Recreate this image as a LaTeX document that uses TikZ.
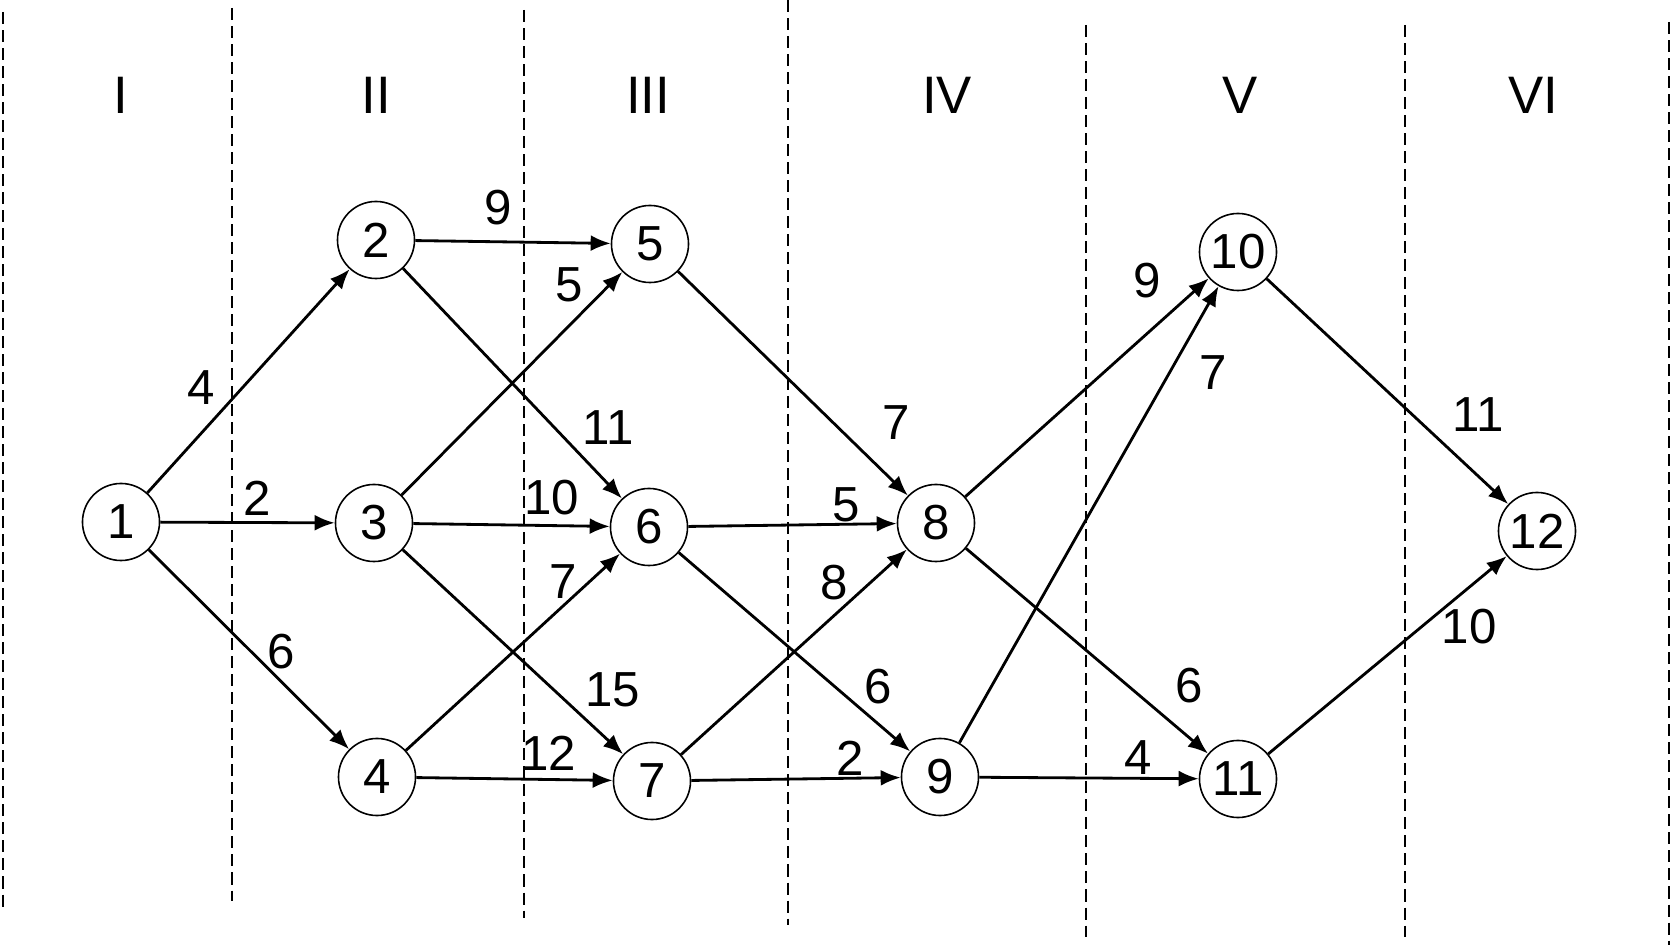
\documentclass[tikz,border=0pt]{standalone}
\usepackage{fontspec}
\setmainfont{Liberation Sans}
\usetikzlibrary{arrows.meta}

\begin{document}
\begin{tikzpicture}[x=0.01cm,y=-0.01cm,
  vertex/.style={draw,circle,line width=0.45pt,minimum size=7.7mm,inner sep=0pt,font=\fontsize{14}{16}\selectfont},
  arc/.style={-{Latex[length=2mm,width=1.6mm]},line width=0.8pt},
  wt/.style={font=\fontsize{14}{16}\selectfont},
  stage/.style={font=\fontsize{15}{17}\selectfont},
  sep/.style={line width=0.5pt,dash pattern=on 1.2mm off 0.6mm}]
  \useasboundingbox (0,0) rectangle (1672,949);

  % stage borders
  \foreach \x/\a/\b in {3/12/910,232/8/901,524/10/918,788/0/925,1086/25/937,1405/25/937,1669/22/945}
    \draw[sep] (\x,\a) -- (\x,\b);

  % stage names
  \foreach \s/\x in {I/121,II/376,III/648,IV/947,V/1240,VI/1533}
    \node[stage] (s\s) at (\x,95) {\s};

  % vertices
  \foreach \n/\x/\y in {1/121/522,2/376/240,3/374/523,4/377/777,5/650/244,6/649/527,
                        7/652/781,8/936/523,9/940/777,10/1238/252,11/1238/779,12/1537/531}
    \node[vertex] (v\n) at (\x,\y) {\n};

  % arcs and their lengths
  \foreach \a/\b/\w/\x/\y in {1/2/4/201/388,1/3/2/257/498,1/4/6/281/652,
                              2/5/9/498/208,2/6/11/608/428,
                              3/5/5/569/285,3/6/10/552/498,3/7/15/613/690,
                              4/6/7/563/582,4/7/12/549/753,
                              5/8/7/896/423,
                              6/8/5/846/505,6/9/6/878/687,
                              7/8/8/834/583,7/9/2/850/758,
                              8/10/9/1147/281,8/11/6/1189/686,
                              9/10/7/1213/373,9/11/4/1138/758,
                              10/12/11/1478/415,11/12/10/1469/627}
  {
    \draw[arc] (v\a) -- (v\b);
    \node[wt] (w\a-\b) at (\x,\y) {\w};
  }
\end{tikzpicture}
\end{document}
